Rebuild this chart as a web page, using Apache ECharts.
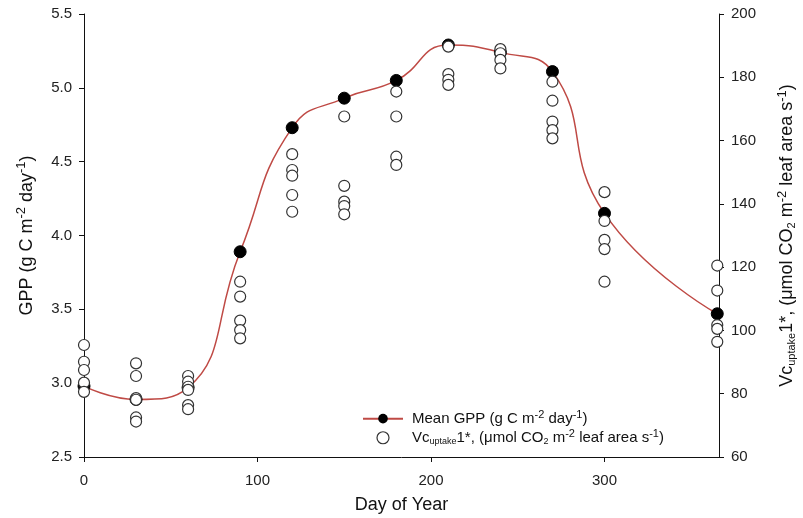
<!DOCTYPE html>
<html>
<head>
<meta charset="utf-8">
<script src="https://cdn.jsdelivr.net/npm/echarts@6/dist/echarts.min.js"></script>
<style>html,body{margin:0;padding:0;background:#fff}#c{width:803px;height:518px}</style>
</head>
<body>
<div id="c"></div>
<script>
// ---- data ----
const days = [0, 30, 60, 90, 120, 150, 180, 210, 240, 270, 300, 365];
const meanGpp = [2.98, 2.89, 2.97, 3.89, 4.73, 4.93, 5.05, 5.29, 5.24, 5.11, 4.15, 3.47];
const vc0 = [95.4, 90.1, 87.5, 83.5, 80.6];
const vc30 = [89.6, 85.6, 78.6, 78.1, 72.5, 71.2];
const vc60 = [85.6, 83.8, 82.2, 81.2, 76.4, 75.1];
const vc90 = [115.4, 110.7, 103.1, 100.1, 97.5];
const vc120 = [155.7, 150.7, 148.9, 142.8, 137.5];
const vc150 = [167.6, 145.7, 140.7, 139.3, 136.7];
const vc180 = [175.5, 167.6, 154.9, 152.3];
const vc210 = [189.7, 181.0, 179.2, 177.6];
const vc240 = [188.9, 187.6, 185.5, 182.8];
const vc270 = [178.6, 172.6, 166.0, 163.3, 160.7];
const vc300 = [143.7, 134.6, 128.6, 125.7, 115.4];
const vc365 = [120.5, 112.6, 101.7, 100.5, 96.4];
const vcByDay = [vc0, vc30, vc60, vc90, vc120, vc150, vc180, vc210, vc240, vc270, vc300, vc365];
const xTicks = [0, 100, 200, 300];

const gppData = days.map((d, i) => [d, meanGpp[i]]);
const vcData = [];
days.forEach((d, i) => vcByDay[i].forEach(v => vcData.push([d, v])));

const FONT = 'Liberation Sans, Arial, sans-serif';
const supSub = (fs) => ({
  sup: { fontSize: Math.round(fs * 0.7), fontFamily: FONT, color: '#111', padding: [0, 0, fs * 0.55, 0] },
  sub: { fontSize: Math.round(fs * 0.62), fontFamily: FONT, color: '#111', padding: [fs * 0.45, 0, 0, 0] },
  n: { fontSize: fs, fontFamily: FONT, color: '#111' }
});

const legendNames = {
  'gpp': '{n|Mean GPP (g C m}{sup|-2}{n| day}{sup|-1}{n|)}',
  'vc': '{n|Vc}{sub|uptake}{n|1*, (μmol CO}{sub|2}{n| m}{sup|-2}{n| leaf area s}{sup|-1}{n|)}'
};

const chart = echarts.init(document.getElementById('c'));
chart.setOption({
  animation: false,
  backgroundColor: '#fff',
  grid: { left: 84, right: 84, top: 14, bottom: 61, containLabel: false, outerBoundsMode: 'none' },
  legend: {
    orient: 'vertical',
    left: 357,
    top: 404,
    itemWidth: 40,
    itemHeight: 12,
    itemGap: 2,
    data: [{ name: 'gpp' }, { name: 'vc', itemStyle: { borderWidth: 1.2 } }],
    formatter: (n) => legendNames[n],
    textStyle: { rich: supSub(15), padding: [0, 0, 0, 4] }
  },
  xAxis: {
    type: 'value',
    min: 0,
    max: 366,
    name: 'Day of Year',
    nameLocation: 'middle',
    nameGap: 39,
    nameTextStyle: { fontSize: 18, fontFamily: FONT, color: '#111' },
    axisLine: { show: true, lineStyle: { color: '#111', width: 1 } },
    axisTick: { show: true, inside: false, length: 5, customValues: xTicks, lineStyle: { color: '#111' } },
    axisLabel: { customValues: xTicks, fontSize: 15, fontFamily: FONT, color: '#222', margin: 16 },
    splitLine: { show: false }
  },
  yAxis: [
    {
      type: 'value',
      min: 2.5,
      max: 5.5,
      interval: 0.5,
      position: 'left',
      name: '{n|GPP (g C m}{sup|-2}{n| day}{sup|-1}{n|)}',
      nameLocation: 'middle',
      nameRotate: 90,
      nameGap: 46,
      nameTextStyle: { rich: supSub(18) },
      axisLine: { show: true, lineStyle: { color: '#111', width: 1 } },
      axisTick: { show: true, length: 5, lineStyle: { color: '#111' } },
      axisLabel: { fontSize: 15, fontFamily: FONT, color: '#222', margin: 12, formatter: v => v.toFixed(1) },
      splitLine: { show: false }
    },
    {
      type: 'value',
      min: 60,
      max: 200,
      interval: 20,
      position: 'right',
      name: '{n|Vc}{sub|uptake}{n|1*, (μmol CO}{sub|2}{n| m}{sup|-2}{n| leaf area s}{sup|-1}{n|)}',
      nameLocation: 'middle',
      nameRotate: 90,
      nameGap: 57,
      nameTextStyle: { rich: supSub(18) },
      axisLine: { show: true, lineStyle: { color: '#111', width: 1 } },
      axisTick: { show: true, length: 5, lineStyle: { color: '#111' } },
      axisLabel: { fontSize: 15, fontFamily: FONT, color: '#222', margin: 12 },
      splitLine: { show: false }
    }
  ],
  series: [
    {
      name: 'gpp',
      type: 'line',
      yAxisIndex: 0,
      data: gppData,
      smooth: 0.5,
      symbol: 'circle',
      symbolSize: 12,
      itemStyle: { color: '#000', borderColor: '#000' },
      lineStyle: { color: '#bf4a45', width: 1.5 },
      z: 2
    },
    {
      name: 'vc',
      type: 'scatter',
      yAxisIndex: 1,
      data: vcData,
      symbol: 'circle',
      symbolSize: 11,
      itemStyle: { color: '#fff', borderColor: '#333', borderWidth: 1.2, opacity: 1 },
      z: 3
    }
  ]
});
</script>
</body>
</html>
